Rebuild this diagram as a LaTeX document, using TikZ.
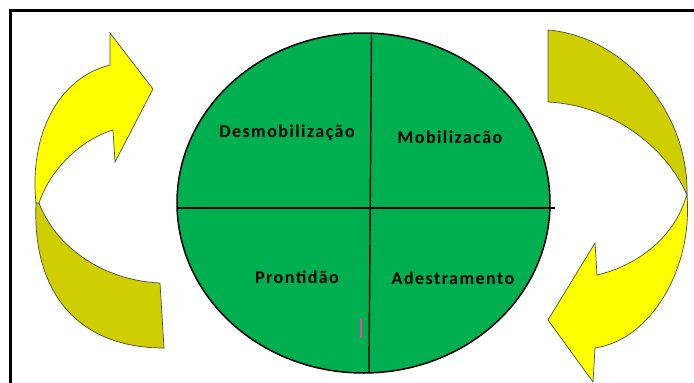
\documentclass[tikz,border=0pt]{standalone}
\usepackage{fontspec}
\setmainfont{Carlito}
\newfontfamily\phasefont[LetterSpace=8]{Carlito}
\usetikzlibrary{shapes.geometric}
\definecolor{cyclegreen}{RGB}{0,176,80}
\definecolor{lightribbon}{RGB}{255,255,0}
\definecolor{darkribbon}{RGB}{206,206,0}
\definecolor{markpink}{RGB}{232,70,160}

\begin{document}
\begin{tikzpicture}[%
    x=1pt,
    y=-1pt,
    phase/.style={%
      font=\phasefont\bfseries\fontsize{18}{21}\selectfont,
      inner sep=0pt
    },
    ribbonlight/.style={%
      fill=lightribbon,
      draw=black!70,
      line width=0.7pt
    },
    ribbondark/.style={%
      fill=darkribbon,
      draw=black!70,
      line width=0.7pt
    }
  ]
    \useasboundingbox (0,0) rectangle (694,383);

    % frame (only top and left edges show)
    \draw[line width=3pt] (10.5,383) -- (10.5,10.5) -- (694,10.5);

    % the cycle
    \node[ellipse, draw, fill=cyclegreen, line width=1.5pt, inner sep=0pt,
          minimum width=373pt, minimum height=340pt] (cycle) at (363.5,203) {};
    \coordinate (top) at (371.5,35);
    \coordinate (bottom) at (369,373);
    \coordinate (west) at (178,208);
    \coordinate (east) at (555,208);
    \draw[line width=1.4pt] (top) -- (bottom);
    \draw[line width=1.4pt] (west) -- (east);

    \node[phase] (desmob) at (287,133) {Desmobilização};
    \node[phase] (mob)    at (450,137) {Mobilizacão};
    \node[phase] (pront)  at (297,277) {Prontidão};
    \node[phase] (adest)  at (453,278) {Adestramento};

    \coordinate (mark) at (361,318);
    \draw[markpink, line width=1.6pt] (mark) -- ++(0,20);

    % left ribbon arrow
    \draw[ribbondark] (36,203) .. controls (32,295) and (80,348) .. (164,348)
          -- (160,283) .. controls (100,280) and (55,245) .. (39,203) -- cycle;
    \draw[ribbonlight] (36,203) .. controls (29,135) and (58,78) .. (110,65)
          -- (110,33) -- (153,89) -- (115,162) -- (113,130)
          .. controls (80,140) and (50,170) .. (39,203) -- cycle;

    % right ribbon arrow
    \draw[ribbondark] (548,30) .. controls (622,36) and (689,110) .. (687,195)
          .. controls (665,145) and (610,105) .. (548,102) -- cycle;
    \draw[ribbonlight] (687,195) .. controls (693,270) and (650,340) .. (595,348)
          -- (593,382) -- (548,320) -- (595,243) -- (597,275)
          .. controls (640,265) and (675,235) .. (686,197) -- cycle;
  \end{tikzpicture}
\end{document}
